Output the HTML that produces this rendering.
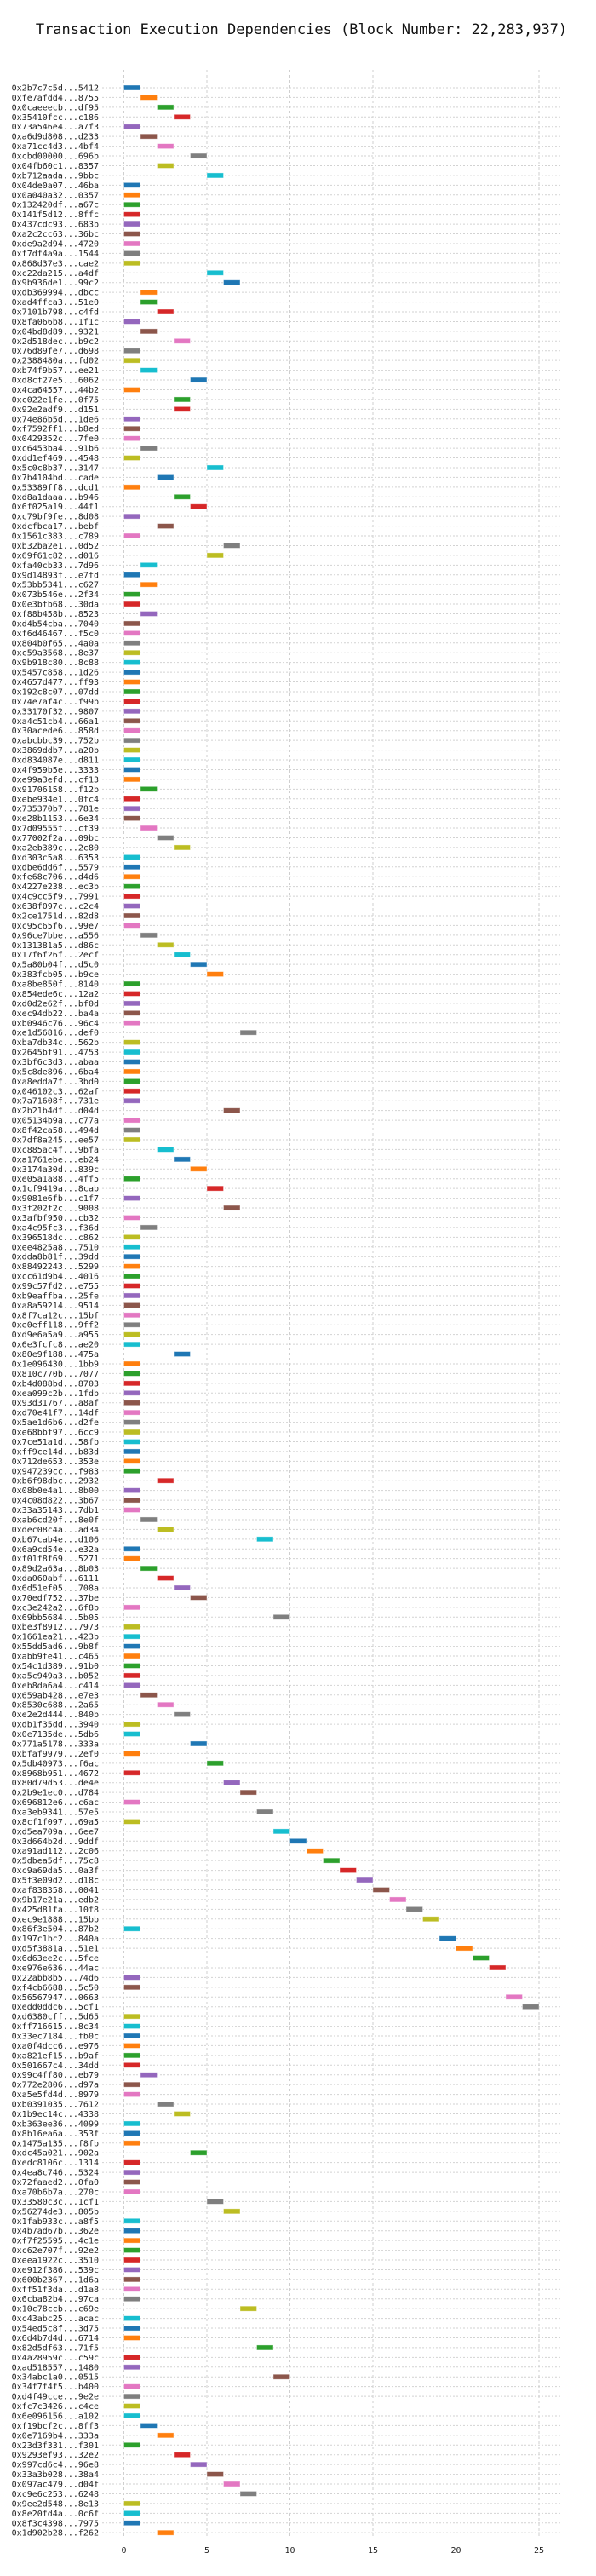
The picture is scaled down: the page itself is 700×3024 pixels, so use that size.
<!DOCTYPE html>
<html><head><meta charset="utf-8"><style>
html,body{margin:0;padding:0;background:#fff;}
svg{display:block;}
</style></head><body>
<svg id="chart" width="700" height="3024" viewBox="0 0 700 3024" xmlns="http://www.w3.org/2000/svg">
<text x="354" y="40" text-anchor="middle" font-family="'DejaVu Sans Mono','Liberation Mono',monospace" font-size="17" fill="#111">Transaction Execution Dependencies (Block Number: 22,283,937)</text>
<g id="grid"></g>
<g id="rows"></g>
<g id="xaxis"></g>
</svg>
<script>
const txLabels = ["0x2b7c7c5d...5412","0xfe7afdd4...8755","0x0caeeecb...df95","0x35410fcc...c186","0x73a546e4...a7f3","0xa6d9d808...d233","0xa71cc4d3...4bf4","0xcbd00000...696b","0x04fb60c1...8357","0xb712aada...9bbc","0x04de0a07...46ba","0x0a040a32...0357","0x132420df...a67c","0x141f5d12...8ffc","0x437cdc93...683b","0xa2c2cc63...36bc","0xde9a2d94...4720","0xf7df4a9a...1544","0x868d37e3...cae2","0xc22da215...a4df","0x9b936de1...99c2",
"0xdb369994...dbcc","0xad4ffca3...51e0","0x7101b798...c4fd","0x8fa066b8...1f1c","0x04bd8d89...9321","0x2d518dec...b9c2","0x76d89fe7...d698","0x2388480a...fd02","0xb74f9b57...ee21","0xd8cf27e5...6062","0x4ca64557...44b2","0xc022e1fe...0f75","0x92e2adf9...d151","0x74e86b5d...1de6","0xf7592ff1...b8ed","0x0429352c...7fe0","0xc6453ba4...91b6","0xdd1ef469...4548","0x5c0c8b37...3147","0x7b4104bd...cade","0x53389ff8...dcd1",
"0xd8a1daaa...b946","0x6f025a19...44f1","0xc79bf9fe...8d08","0xdcfbca17...bebf","0x1561c383...c789","0xb32ba2e1...0d52","0x69f61c82...d016","0xfa40cb33...7d96","0x9d14893f...e7fd","0x53bb5341...c627","0x073b546e...2f34","0x0e3bfb68...30da","0xf88b458b...8523","0xd4b54cba...7040","0xf6d46467...f5c0","0x804b0f65...4a0a","0xc59a3568...8e37","0x9b918c80...8c88","0x5457c858...1d26","0x4657d477...ff93","0x192c8c07...07dd","0x74e7af4c...f99b","0x33170f32...9807","0xa4c51cb4...66a1","0x30acede6...858d","0xabcbbc39...752b","0x3869ddb7...a20b","0xd834087e...d811",
"0x4f959b5e...3333","0xe99a3efd...cf13","0x91706158...f12b","0xebe934e1...0fc4","0x735370b7...781e","0xe28b1153...6e34","0x7d09555f...cf39","0x77002f2a...09bc","0xa2eb389c...2c80","0xd303c5a8...6353","0xdbe6dd6f...5579","0xfe68c706...d4d6","0x4227e238...ec3b","0x4c9cc5f9...7991","0x638f097c...c2c4","0x2ce1751d...82d8","0xc95c65f6...99e7","0x96ce7bbe...a556","0x131381a5...d86c","0x17f6f26f...2ecf","0x5a80b04f...d5c0","0x383fcb05...b9ce","0xa8be850f...8140","0x854ede6c...12a2","0xd0d2e62f...bf0d","0xec94db22...ba4a","0xb0946c76...96c4","0xe1d56816...def0",
"0xba7db34c...562b","0x2645bf91...4753","0x3bf6c3d3...abaa","0x5c8de896...6ba4","0xa8edda7f...3bd0","0x046102c3...62af","0x7a71608f...731e","0x2b21b4df...d04d","0x05134b9a...c77a","0x8f42ca58...494d","0x7df8a245...ee57","0xc885ac4f...9bfa","0xa1761ebe...eb24","0x3174a30d...839c","0xe05a1a88...4ff5","0x1cf9419a...8cab","0x9081e6fb...c1f7","0x3f202f2c...9008","0x3afbf950...cb32","0xa4c95fc3...f36d","0x396518dc...c862","0xee4825a8...7510","0xdda8b81f...39dd","0x88492243...5299","0xcc61d9b4...4016","0x99c57fd2...e755","0xb9eaffba...25fe","0xa8a59214...9514",
"0x8f7ca12c...15bf","0xe0eff118...9ff2","0xd9e6a5a9...a955","0x6e3fcfc8...ae20","0x80e9f188...475a","0x1e096430...1bb9","0x810c770b...7077","0xb4d088bd...8703","0xea099c2b...1fdb","0x93d31767...a8af","0xd70e41f7...14df","0x5ae1d6b6...d2fe","0xe68bbf97...6cc9","0x7ce51a1d...58fb","0xff9ce14d...b83d","0x712de653...353e","0x947239cc...f983","0xb6f98dbc...2932","0x08b0e4a1...8b00","0x4c08d822...3b67","0x33a35143...7db1","0xab6cd20f...8e0f","0xdec08c4a...ad34","0xb67cab4e...d106","0x6a9cd54e...e32a","0xf01f8f69...5271","0x89d2a63a...8b03","0xda060abf...6111",
"0x6d51ef05...708a","0x70edf752...37be","0xc3e242a2...6f8b","0x69bb5684...5b05","0xbe3f8912...7973","0x1661ea21...423b","0x55dd5ad6...9b8f","0xabb9fe41...c465","0x54c1d389...91b0","0xa5c949a3...b052","0xeb8da6a4...c414","0x659ab428...e7e3","0x8530c688...2a65","0xe2e2d444...840b","0xdb1f35dd...3940","0x0e7135de...5db6","0x771a5178...333a","0xbfaf9979...2ef0","0x5db40973...f6ac","0x8968b951...4672","0x80d79d53...de4e","0x2b9e1ec0...d784","0x696812e6...c6ac","0xa3eb9341...57e5","0x8cf1f097...69a5","0xd5ea709a...6ee7","0x3d664b2d...9ddf","0xa91ad112...2c06",
"0x5dbea5df...75c8","0xc9a69da5...0a3f","0x5f3e09d2...d18c","0xaf838358...0041","0x9b17e21a...edb2","0x425d81fa...10f8","0xec9e1888...15bb","0x86f3e504...87b2","0x197c1bc2...840a","0xd5f3881a...51e1","0x6d63ee2c...5fce","0xe976e636...44ac","0x22abb8b5...74d6","0xf4cb6688...5c50","0x56567947...0663","0xedd0ddc6...5cf1","0xd6380cff...5d65","0xff716615...8c34","0x33ec7184...fb0c","0xa0f4dcc6...e976","0xa821ef15...b9af","0x501667c4...34dd","0x99c4ff80...eb79","0x772e2806...d97a","0xa5e5fd4d...8979","0xb0391035...7612","0x1b9ec14c...4338","0xb363ee36...4099",
"0x8b16ea6a...353f","0x1475a135...f8fb","0xdc45a021...902a","0xedc8106c...1314","0x4ea8c746...5324","0x72faaed2...0fa0","0xa70b6b7a...270c","0x33580c3c...1cf1","0x56274de3...805b","0x1fab933c...a8f5","0x4b7ad67b...362e","0xf7f25595...4c1e","0xc62e707f...92e2","0xeea1922c...3510","0xe912f386...539c","0x600b2367...1d6a","0xff51f3da...d1a8","0x6cba82b4...97ca","0x10c78ccb...c69e","0xc43abc25...acac","0x54ed5c8f...3d75","0x6d4b7d4d...6714","0x82d5df63...71f5","0x4a28959c...c59c","0xad518557...1480","0x34abc1a0...0515","0x34f7f4f5...b400","0xd4f49cce...9e2e",
"0xfc7c3426...c4ce","0x6e096156...a102","0xf19bcf2c...8ff3","0x0e7169b4...333a","0x23d3f331...f301","0x9293ef93...32e2","0x997cd6c4...96e8","0x33a3b028...38a4","0x097ac479...d04f","0xc9e6c253...6248","0x9ee2d548...8e13","0x8e20fd4a...0c6f","0x8f3c4398...7975","0x1d902b28...f262"];
const startSteps = [0,1,2,3,0,1,2,4,2,5,0,0,0,0,0,0,0,0,0,5,6,
1,1,2,0,1,3,0,0,1,4,0,3,3,0,0,0,1,0,5,2,0,
3,4,0,2,0,6,5,1,0,1,0,0,1,0,0,0,0,0,0,0,0,0,0,0,0,0,0,0,
0,0,1,0,0,0,1,2,3,0,0,0,0,0,0,0,0,1,2,3,4,5,0,0,0,0,0,7,
0,0,0,0,0,0,0,6,0,0,0,2,3,4,0,5,0,6,0,1,0,0,0,0,0,0,0,0,
0,0,0,0,3,0,0,0,0,0,0,0,0,0,0,0,0,2,0,0,0,1,2,8,0,0,1,2,
3,4,0,9,0,0,0,0,0,0,0,1,2,3,0,0,4,0,5,0,6,7,0,8,0,9,10,11,
12,13,14,15,16,17,18,0,19,20,21,22,0,0,23,24,0,0,0,0,0,0,1,0,0,2,3,0,
0,0,4,0,0,0,0,5,6,0,0,0,0,0,0,0,0,0,7,0,0,0,8,0,0,9,0,0,
0,0,1,2,0,3,4,5,6,7,0,0,0,2];
const durations = [1];
const xTicks = [0,5,10,15,20,25];
const palette = ["#1f77b4","#ff7f0e","#2ca02c","#d62728","#9467bd","#8c564b","#e377c2","#7f7f7f","#bcbd22","#17becf"];

const NS = "http://www.w3.org/2000/svg";
const X0 = 145.5, UNIT = 19.5, Y0 = 103, DY = 11.435;
const PLOT_LEFT = 120, PLOT_RIGHT = 660, PLOT_TOP = 82, PLOT_BOTTOM = 2981;
function xScale(v){ return X0 + v*UNIT; }
function yScale(i){ return Y0 + i*DY; }

const grid = document.getElementById('grid');
const rows = document.getElementById('rows');
const xaxis = document.getElementById('xaxis');

xTicks.forEach(function(t){
  const l = document.createElementNS(NS,'line');
  l.setAttribute('x1', xScale(t)); l.setAttribute('x2', xScale(t));
  l.setAttribute('y1', PLOT_TOP); l.setAttribute('y2', PLOT_BOTTOM);
  l.setAttribute('stroke','#cfcfcf'); l.setAttribute('stroke-width','1');
  l.setAttribute('stroke-dasharray','3,3');
  
  
  grid.appendChild(l);
  const tx = document.createElementNS(NS,'text');
  tx.setAttribute('x', xScale(t)); tx.setAttribute('y', 2997);
  tx.setAttribute('text-anchor','middle');
  tx.setAttribute('font-family',"'DejaVu Sans Mono','Liberation Mono',monospace");
  tx.setAttribute('font-size','10'); tx.setAttribute('fill','#222');
  tx.textContent = String(t);
  
  
  xaxis.appendChild(tx);
});

txLabels.forEach(function(lab, i){
  const y = yScale(i);
  const gl = document.createElementNS(NS,'line');
  gl.setAttribute('x1', PLOT_LEFT); gl.setAttribute('x2', PLOT_RIGHT);
  gl.setAttribute('y1', y); gl.setAttribute('y2', y);
  gl.setAttribute('stroke','#d2d2d2'); gl.setAttribute('stroke-width','1');
  gl.setAttribute('stroke-dasharray','2,2');
  
  
  grid.appendChild(gl);

  const t = document.createElementNS(NS,'text');
  t.setAttribute('x', 116); t.setAttribute('y', y + 3.5);
  t.setAttribute('text-anchor','end');
  t.setAttribute('font-family',"'DejaVu Sans Mono','Liberation Mono',monospace");
  t.setAttribute('font-size','10'); t.setAttribute('fill','#222');
  t.textContent = lab;
  
  
  rows.appendChild(t);

  const s = startSteps[i];
  const d = durations[i % durations.length];
  const r = document.createElementNS(NS,'rect');
  r.setAttribute('x', xScale(s)); r.setAttribute('y', y - 3);
  r.setAttribute('width', xScale(s + d) - xScale(s)); r.setAttribute('height', 6);
  r.setAttribute('fill', palette[i % 10]);
  r.setAttribute('stroke','rgba(255,255,255,0.5)'); r.setAttribute('stroke-width','0.8');
  
  
  rows.appendChild(r);
});
</script>
</body></html>
